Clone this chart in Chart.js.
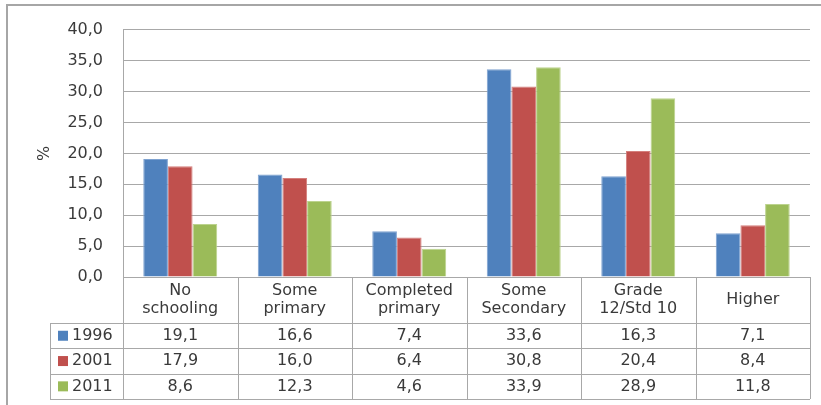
<!DOCTYPE html>
<html>
<head>
<meta charset="utf-8">
<script src="https://cdn.jsdelivr.net/npm/chart.js@4.4.1/dist/chart.umd.min.js"></script>
<style>
  html, body { margin: 0; padding: 0; background: #fff; }
  #wrap { position: relative; width: 821px; height: 405px; }
  #frame { position: absolute; left: 6px; top: 4px; right: 0; bottom: 0; border-top: 2px solid #a6a6a6; border-left: 2px solid #a6a6a6; pointer-events: none; }
</style>
</head>
<body>
<div id="wrap"><canvas id="eduChart"></canvas><div id="frame"></div></div>
<script>
const CATEGORIES = [["No", "schooling"], ["Some", "primary"], ["Completed", "primary"], ["Some", "Secondary"], ["Grade", "12/Std 10"], ["Higher"]];
const YEARS = ["1996", "2001", "2011"];
const VALUES_1996 = [19.1, 16.6, 7.4, 33.6, 16.3, 7.1];
const VALUES_2001 = [17.9, 16.0, 6.4, 30.8, 20.4, 8.4];
const VALUES_2011 = [8.6, 12.3, 4.6, 33.9, 28.9, 11.8];
const Y_TICKS = [0, 5, 10, 15, 20, 25, 30, 35, 40];

const COLORS = ["#4f81bd", "#c0504d", "#9bbb59"];
const EDGES = ["#7ea2d0", "#d47f7c", "#bcd38e"];
const TEXT = "#3a3a3a";
const GRID = "#a8a8a8";
const FONT = { family: '"DejaVu Sans", sans-serif', size: 16 };
const HEADER_H = 46, ROW_H = 25.3, KEY_COL = 73;

const fmt = (v) => Number(v).toFixed(1).replace(".", ",");

// draws the data table under the plot, lined up with the category scale
const dataTablePlugin = {
  id: "dataTable",
  afterDraw(c) {
    const { ctx, chartArea, scales } = c;
    const x = scales.x;
    const half = (x.getPixelForValue(1) - x.getPixelForValue(0)) / 2;
    const top = chartArea.bottom;
    const rowsTop = top + HEADER_H;
    const bottom = rowsTop + ROW_H * YEARS.length;
    const left = chartArea.left - KEY_COL;
    const series = c.data.datasets;

    ctx.save();
    ctx.strokeStyle = GRID;
    ctx.lineWidth = 1;
    ctx.beginPath();
    for (let r = 0; r <= YEARS.length; r += 1) {
      const y = Math.round(rowsTop + r * ROW_H) + 0.5;
      ctx.moveTo(left, y);
      ctx.lineTo(chartArea.right, y);
    }
    ctx.moveTo(Math.round(left) + 0.5, rowsTop);
    ctx.lineTo(Math.round(left) + 0.5, bottom);
    for (let i = 0; i <= CATEGORIES.length; i += 1) {
      const xx = Math.round(x.getPixelForValue(i) - half) + 0.5;
      ctx.moveTo(xx, top);
      ctx.lineTo(xx, bottom);
    }
    ctx.stroke();

    ctx.font = `${FONT.size}px ${FONT.family}`;
    ctx.fillStyle = TEXT;
    ctx.textBaseline = "middle";
    ctx.textAlign = "center";
    CATEGORIES.forEach((lines, i) => {
      const cx = x.getPixelForValue(i);
      const lh = 18;
      const y0 = top + HEADER_H / 2 - ((lines.length - 1) * lh) / 2;
      lines.forEach((t, k) => ctx.fillText(t, cx, y0 + k * lh));
    });
    series.forEach((ds, r) => {
      const cy = rowsTop + ROW_H * r + ROW_H / 2;
      ds.data.forEach((v, i) => {
        ctx.fillStyle = TEXT;
        ctx.textAlign = "center";
        ctx.fillText(fmt(v), x.getPixelForValue(i), cy);
      });
      ctx.fillStyle = ds.backgroundColor;
      ctx.fillRect(left + 8, cy - 5, 10, 10);
      ctx.fillStyle = TEXT;
      ctx.textAlign = "left";
      ctx.fillText(ds.label, left + 22, cy);
    });
    ctx.restore();
  },
};

new Chart(document.getElementById("eduChart"), {
  type: "bar",
  data: {
    labels: CATEGORIES,
    datasets: [
      { label: YEARS[0], data: VALUES_1996, backgroundColor: COLORS[0], borderColor: EDGES[0] },
      { label: YEARS[1], data: VALUES_2001, backgroundColor: COLORS[1], borderColor: EDGES[1] },
      { label: YEARS[2], data: VALUES_2011, backgroundColor: COLORS[2], borderColor: EDGES[2] },
    ],
  },
  options: {
    responsive: true,
    maintainAspectRatio: false,
    animation: false,
    datasets: { bar: { barPercentage: 1, categoryPercentage: 0.646, borderWidth: { top: 1, left: 1, right: 1, bottom: 0 } } },
    layout: { padding: { top: 23, left: 8, right: 11, bottom: 6 } },
    plugins: { legend: { display: false }, tooltip: { enabled: false } },
    scales: {
      x: {
        grid: { display: false, drawTicks: false },
        border: { display: true, color: GRID, width: 1 },
        ticks: { display: false },
        afterFit: (s) => { s.height = HEADER_H + ROW_H * YEARS.length; },
      },
      y: {
        min: 0,
        max: 40,
        afterBuildTicks: (s) => { s.ticks = Y_TICKS.map((v) => ({ value: v })); },
        grid: { color: GRID, lineWidth: 1, drawTicks: false },
        border: { display: true, color: GRID, width: 1 },
        ticks: { color: TEXT, font: FONT, padding: 20, callback: (v) => fmt(v) },
        title: { display: true, text: "%", color: TEXT, font: FONT, padding: { top: 27, bottom: 0 } },
        afterFit: (s) => { s.width = 115; },
      },
    },
  },
  plugins: [dataTablePlugin],
});
</script>
</body>
</html>
